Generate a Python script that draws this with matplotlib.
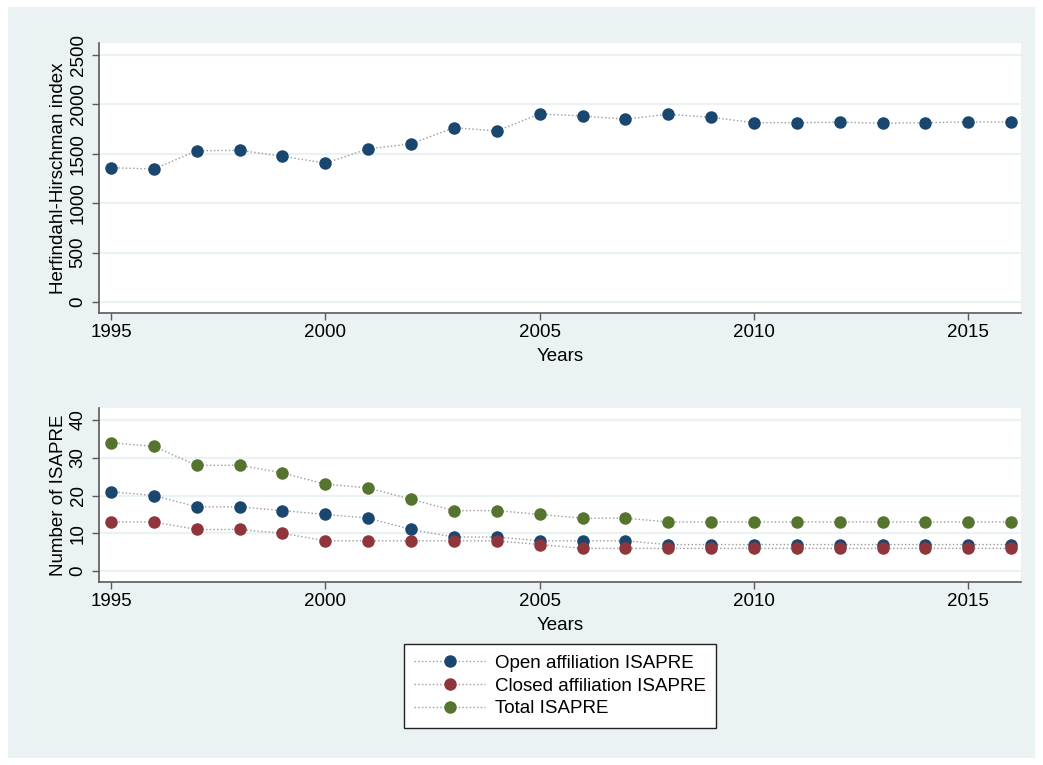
import matplotlib
matplotlib.use("Agg")
from matplotlib import pyplot as plt
from matplotlib.patches import Rectangle
from matplotlib.lines import Line2D

plt.rcParams['font.family'] = ['Liberation Sans', 'DejaVu Sans']

years = list(range(1995, 2017))
hhi = [1360, 1345, 1530, 1535, 1475, 1405, 1550, 1600, 1765, 1730, 1903,
       1883, 1850, 1900, 1869, 1815, 1815, 1819, 1810, 1815, 1822, 1822]
open_isapre = [21, 20, 17, 17, 16, 15, 14, 11, 9, 9, 8, 8, 8, 7, 7, 7, 7, 7, 7, 7, 7, 7]
closed_isapre = [13, 13, 11, 11, 10, 8, 8, 8, 8, 8, 7, 6, 6, 6, 6, 6, 6, 6, 6, 6, 6, 6]
total_isapre = [34, 33, 28, 28, 26, 23, 22, 19, 16, 16, 15, 14, 14, 13, 13, 13, 13, 13, 13, 13, 13, 13]

bg = '#eaf2f3'
navy = '#1a476f'
maroon = '#90353b'
green = '#55752f'
linec = '#9a9a9a'
fs = 13.5

fig = plt.figure(figsize=(10.43, 7.65), dpi=100, facecolor='white')
fig.patches.append(Rectangle((8 / 1043, 1 - 758 / 765), 1027 / 1043, 751 / 765,
                             transform=fig.transFigure, facecolor=bg,
                             edgecolor='none', zorder=-10))

ax1 = fig.add_axes([99 / 1043, 1 - 313 / 765, 922 / 1043, 270 / 765])
ax2 = fig.add_axes([99 / 1043, 1 - 582 / 765, 922 / 1043, 174 / 765])


def style(ax):
    ax.set_facecolor('white')
    for s in ['top', 'right']:
        ax.spines[s].set_visible(False)
    for s in ['left', 'bottom']:
        ax.spines[s].set_color('#5a5a5a')
        ax.spines[s].set_linewidth(1.2)
    ax.tick_params(axis='both', direction='out', length=5, width=1,
                   color='#5a5a5a', labelsize=fs, pad=3)
    ax.tick_params(axis='y', labelrotation=90, pad=4)
    for lab in ax.get_yticklabels():
        lab.set_va('center')
    ax.grid(axis='y', color=bg, linewidth=1.6)
    ax.set_axisbelow(True)
    ax.set_xlim(1994.72, 2016.23)
    ax.set_xticks([1995, 2000, 2005, 2010, 2015])
    ax.set_xlabel('Years', fontsize=fs, labelpad=5)


mk = dict(marker='o', markersize=9, markeredgewidth=0, linestyle=':',
          linewidth=1, color=linec)

ax1.plot(years, hhi, markerfacecolor=navy, **mk)
ax1.set_ylim(-111, 2621)
ax1.set_yticks([0, 500, 1000, 1500, 2000, 2500])
ax1.set_ylabel('Herfindahl-Hirschman index', fontsize=fs, labelpad=2)
style(ax1)

ax2.plot(years, open_isapre, markerfacecolor=navy, **mk)
ax2.plot(years, closed_isapre, markerfacecolor=maroon, **mk)
ax2.plot(years, total_isapre, markerfacecolor=green, **mk)
ax2.set_ylim(-2.91, 43.18)
ax2.set_yticks([0, 10, 20, 30, 40])
ax2.set_ylabel('Number of ISAPRE', fontsize=fs, labelpad=2)
style(ax2)

handles = [Line2D([], [], markerfacecolor=c, **mk) for c in (navy, maroon, green)]
leg = fig.legend(handles, ['Open affiliation ISAPRE', 'Closed affiliation ISAPRE', 'Total ISAPRE'],
                 loc='center', bbox_to_anchor=(560 / 1043, 1 - 686 / 765),
                 fontsize=fs, frameon=True, fancybox=False, framealpha=1,
                 handlelength=3.8, handletextpad=0.5, labelspacing=0.3,
                 borderpad=0.55, borderaxespad=0)
leg.get_frame().set_edgecolor('#222222')
leg.get_frame().set_linewidth(1)

fig.savefig('out.png', dpi=100, facecolor='white')
